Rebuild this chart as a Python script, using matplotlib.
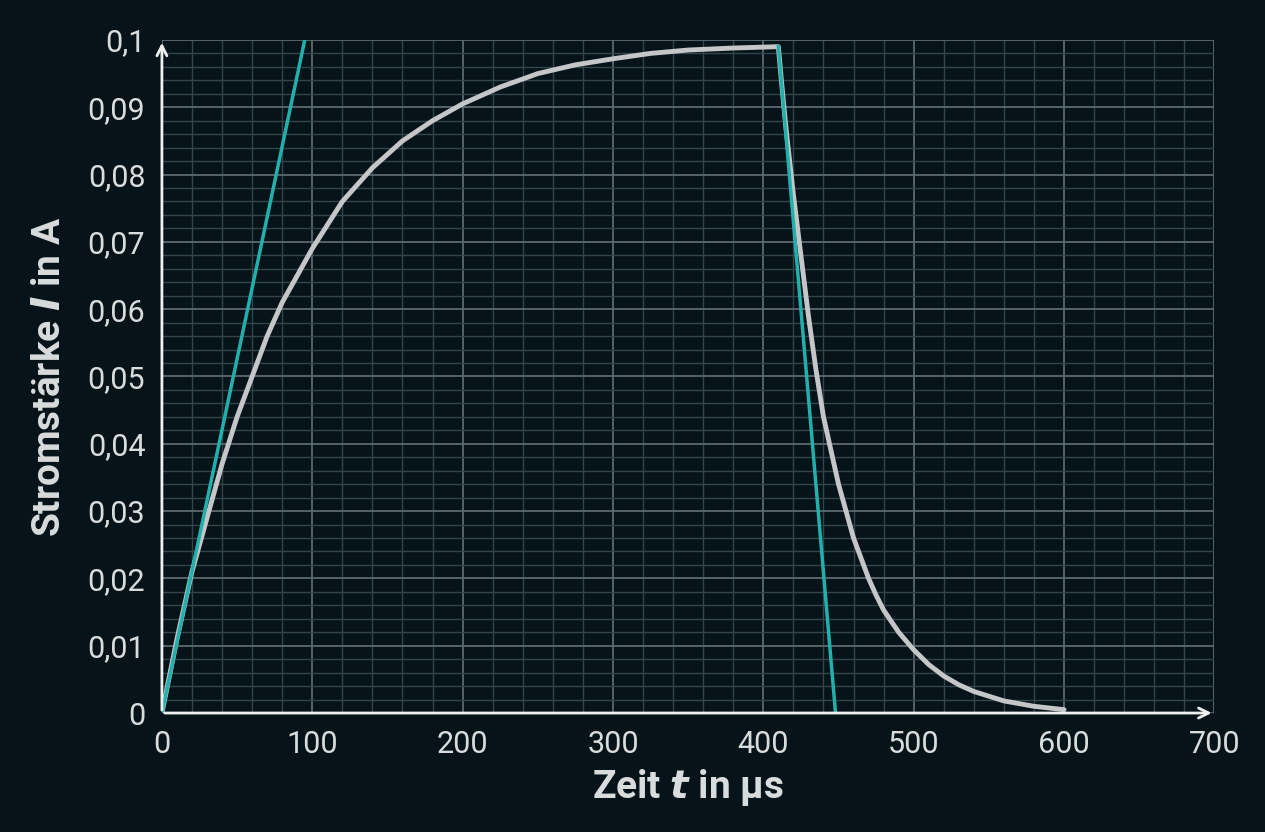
import matplotlib.pyplot as plt
from matplotlib.ticker import MultipleLocator, FuncFormatter

BG = "#061419"

t_curve = [0, 5, 10, 15, 20, 30, 40, 50, 60, 70, 80, 90, 100, 110, 120, 140, 160, 180, 200,
           225, 250, 275, 300, 325, 350, 380, 410, 412, 415, 420, 425, 430, 435, 440, 445,
           450, 455, 460, 465, 470, 475, 480, 490, 500, 510, 520, 530, 540, 560, 580, 600]
i_curve = [0, 0.0055, 0.011, 0.016, 0.021, 0.029, 0.037, 0.044, 0.050, 0.056, 0.061,
           0.065, 0.069, 0.0725, 0.076, 0.081, 0.085, 0.088, 0.0905, 0.093, 0.0950, 0.0963,
           0.0972, 0.0980, 0.0985, 0.0988, 0.099, 0.094, 0.087, 0.077, 0.068, 0.059, 0.051,
           0.044, 0.039, 0.034, 0.030, 0.026, 0.023, 0.020, 0.0175, 0.0153, 0.012, 0.0094,
           0.0072, 0.0055, 0.0042, 0.0032, 0.0018, 0.0010, 0.0005]
t_rise_tangent = [0, 95]
i_rise_tangent = [0, 0.1]
t_fall_tangent = [410, 448]
i_fall_tangent = [0.099, 0]

plt.rcParams["font.family"] = ["Roboto", "DejaVu Sans"]
fig = plt.figure(figsize=(12.65, 8.32), dpi=100, facecolor=BG)
ax = fig.add_axes([0.128, 0.143, 0.832, 0.809], facecolor=BG)

ax.set_xlim(0, 700)
ax.set_ylim(0, 0.1)
ax.xaxis.set_major_locator(MultipleLocator(100))
ax.xaxis.set_minor_locator(MultipleLocator(20))
ax.yaxis.set_major_locator(MultipleLocator(0.01))
ax.yaxis.set_minor_locator(MultipleLocator(0.002))
ax.grid(which="major", color="#5a6a70", lw=1.3)
ax.grid(which="minor", color="#33454b", lw=1.0)
ax.set_axisbelow(True)
for s in ax.spines.values():
    s.set_visible(False)
ax.tick_params(which="both", length=0, colors="#d8dcdd", labelsize=22, pad=12)
ax.yaxis.set_major_formatter(FuncFormatter(
    lambda v, p: "0" if abs(v) < 1e-9 else ("0,1" if abs(v - 0.1) < 1e-9 else f"{v:.2f}".replace(".", ","))))

ax.plot(t_curve, i_curve, color="#c4c6c7", lw=3.5, solid_capstyle="round", solid_joinstyle="round")
ax.plot(t_rise_tangent, i_rise_tangent, color="#22b0ae", lw=2.5)
ax.plot(t_fall_tangent, i_fall_tangent, color="#22b0ae", lw=2.5)

ax.annotate("", xy=(0, 0.1), xytext=(0, 0), annotation_clip=False,
            arrowprops=dict(arrowstyle="->", color="#eef0f0", lw=2, mutation_scale=18))
ax.annotate("", xy=(700, 0), xytext=(0, 0), annotation_clip=False,
            arrowprops=dict(arrowstyle="->", color="#eef0f0", lw=2, mutation_scale=18))

ax.set_xlabel(r"Zeit $\boldsymbol{t}$ in µs", color="#d8dcdd", fontsize=28, fontweight="bold", labelpad=6)
ax.set_ylabel(r"Stromstärke $\boldsymbol{I}$ in A", color="#d8dcdd", fontsize=28, fontweight="bold", labelpad=14)

fig.savefig("out.png", dpi=100, facecolor=BG)
